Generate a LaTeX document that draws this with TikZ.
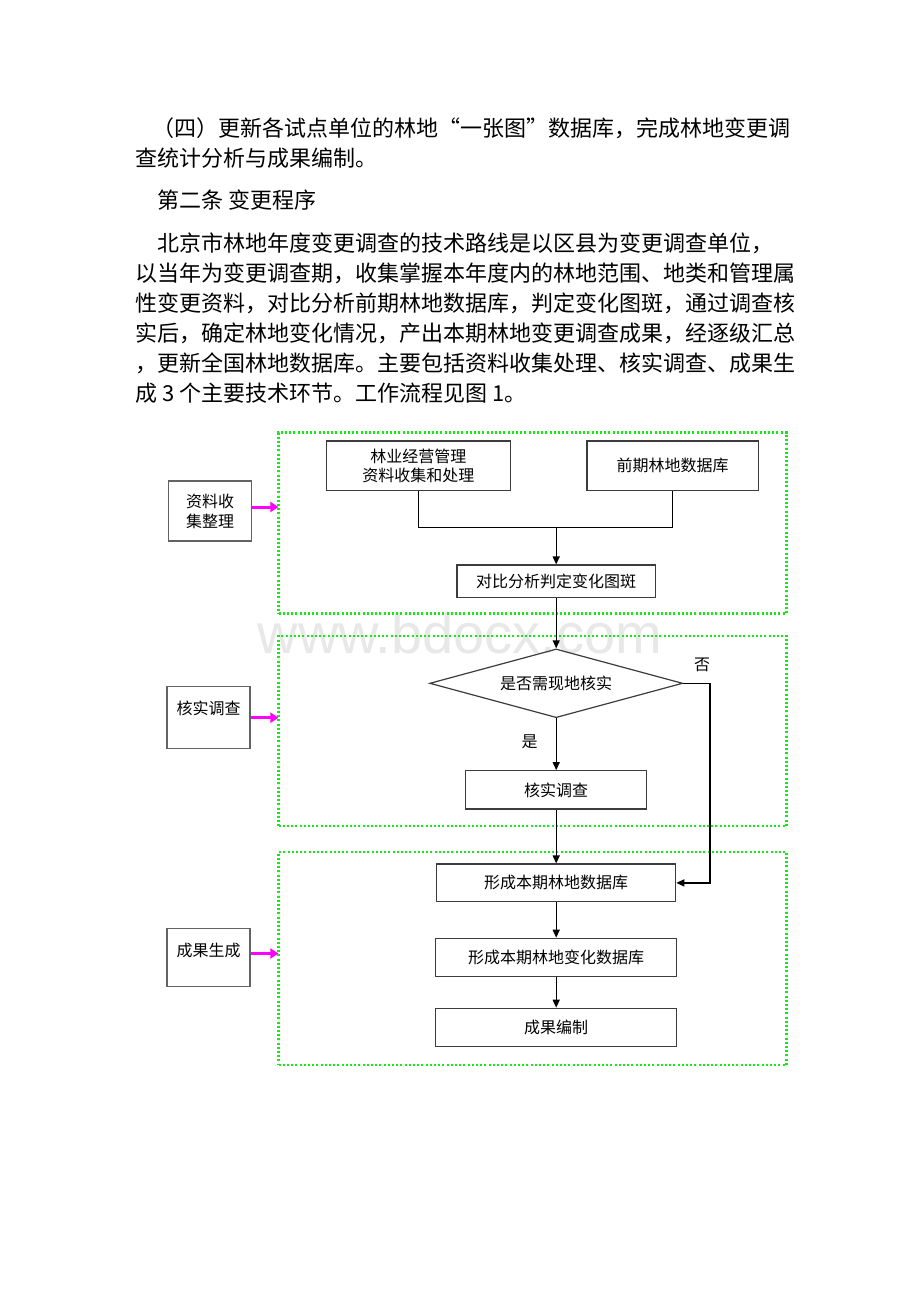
\documentclass[tikz,border=0pt]{standalone}
\usepackage{fontspec}
\setmainfont{Liberation Serif}
\newfontfamily\cjk{Noto Sans CJK SC}
\newfontfamily\wm{Liberation Sans}
\usetikzlibrary{shapes.geometric,arrows.meta}
\definecolor{dotgreen}{RGB}{20,235,20}
\definecolor{pinkarrow}{RGB}{255,0,255}
\definecolor{boxline}{RGB}{60,60,60}
\begin{document}
\begin{tikzpicture}[x=1pt,y=-1pt,
  para/.style={anchor=west,inner sep=0pt,font=\cjk\fontsize{22}{22}\selectfont},
  flowbox/.style={draw=boxline,line width=1.2pt,inner sep=0pt,align=center,
    font=\cjk\fontsize{16}{19}\selectfont},
  lblbox/.style={draw=boxline!80,line width=1.3pt,inner sep=0pt,align=center,
    font=\cjk\fontsize{16}{20}\selectfont,minimum width=83pt},
  grp/.style={draw=dotgreen,line width=2.2pt,dash pattern=on 2pt off 2.2pt,inner sep=0pt},
  flow/.style={line width=1.3pt,black,-{Triangle[length=8pt,width=7pt]}},
  plain/.style={line width=1.3pt,black},
  side/.style={line width=3pt,pinkarrow,-{Triangle[length=8pt,width=10pt]},shorten >=-1pt},
  note/.style={inner sep=0pt,font=\cjk\fontsize{16}{16}\selectfont}
]
\useasboundingbox (0,0) rectangle (920,1302);
\fill[white] (0,0) rectangle (920,1302);

% body text
\node[para] (p1) at (152,128) {（四）更新各试点单位的林地“一张图”数据库，完成林地变更调};
\node[para] (p2) at (135,158) {查统计分析与成果编制。};
\node[para] (p3) at (157,200) {第二条 变更程序};
\node[para] (p4) at (157,243) {北京市林地年度变更调查的技术路线是以区县为变更调查单位，};
\node[para] (p5) at (135,273) {以当年为变更调查期，收集掌握本年度内的林地范围、地类和管理属};
\node[para] (p6) at (135,303) {性变更资料，对比分析前期林地数据库，判定变化图斑，通过调查核};
\node[para] (p7) at (135,333) {实后，确定林地变化情况，产出本期林地变更调查成果，经逐级汇总};
\node[para] (p8) at (135,363) {，更新全国林地数据库。主要包括资料收集处理、核实调查、成果生};
\node[para] (p9) at (135,393) {成 3 个主要技术环节。工作流程见图 1。};

% watermark
\node[anchor=base,inner sep=0pt,text=black!9,font=\wm\fontsize{56}{56}\selectfont] (wmk) at (460,653) {www.bdocx.com};

% green group boxes
\node[grp,minimum width=508pt,minimum height=181pt] (G1) at (532.5,523) {};
\node[grp,minimum width=508pt,minimum height=190pt] (G2) at (532.5,731) {};
\node[grp,minimum width=508pt,minimum height=213pt] (G3) at (532.5,958.5) {};

% left labels
\node[lblbox,minimum height=60pt] (L1) at (210,511) {资料收\\集整理};
\node[lblbox,minimum height=62pt,text height=12pt,text depth=19pt] (L2) at (208.5,717.7) {核实调查};
\node[lblbox,minimum height=58.5pt,text height=12pt,text depth=14.5pt] (L3) at (208.5,957.5) {成果生成};

% flow nodes
\node[flowbox,minimum width=183.7pt,minimum height=49.3pt] (A) at (418.4,465.7) {林业经营管理\\资料收集和处理};
\node[flowbox,minimum width=171.4pt,minimum height=49.3pt] (B) at (672.7,465.7) {前期林地数据库};
\node[flowbox,minimum width=198.5pt,minimum height=32.7pt] (C) at (556.2,581.4) {对比分析判定变化图斑};
\node[draw=boxline,line width=1.2pt,shape=diamond,aspect=3.7,inner sep=0pt,minimum width=253pt,minimum height=68.7pt,
  font=\cjk\fontsize{16}{16}\selectfont] (Q) at (556.2,683.3) {是否需现地核实};
\node[flowbox,minimum width=181.2pt,minimum height=38.3pt] (E) at (556.2,789.9) {核实调查};
\node[flowbox,minimum width=239pt,minimum height=37.7pt] (D) at (556.2,882.9) {形成本期林地数据库};
\node[flowbox,minimum width=241.3pt,minimum height=38.4pt] (F) at (556.2,957.5) {形成本期林地变化数据库};
\node[flowbox,minimum width=241.3pt,minimum height=38.4pt] (H) at (556.2,1027.5) {成果编制};

% connectors
\coordinate (jn) at (556.2,527.7);
\coordinate (nocorner) at (710,683.3);
\draw[plain] (A.south) |- (jn);
\draw[plain] (B.south) |- (jn);
\draw[flow] (jn) -- (C.north);
\draw[flow] (C.south) -- (Q.north);
\draw[flow] (Q.south) -- (E.north);
\draw[flow] (Q.east) -- (nocorner) |- (D.east);
\draw[flow] (E.south) -- (D.north);
\draw[flow] (D.south) -- (F.north);
\draw[flow] (F.south) -- (H.north);

\node[note] (yes) at (529.5,741.7) {是};
\node[note] (no) at (702,665) {否};

% side arrows
\draw[side] ([yshift=4pt]L1.east) -- ([yshift=4pt]L1.east -| G1.west);
\draw[side] (L2.east) -- (L2.east -| G2.west);
\draw[side] ([yshift=4pt]L3.east) -- ([yshift=4pt]L3.east -| G3.west);
\end{tikzpicture}
\end{document}
